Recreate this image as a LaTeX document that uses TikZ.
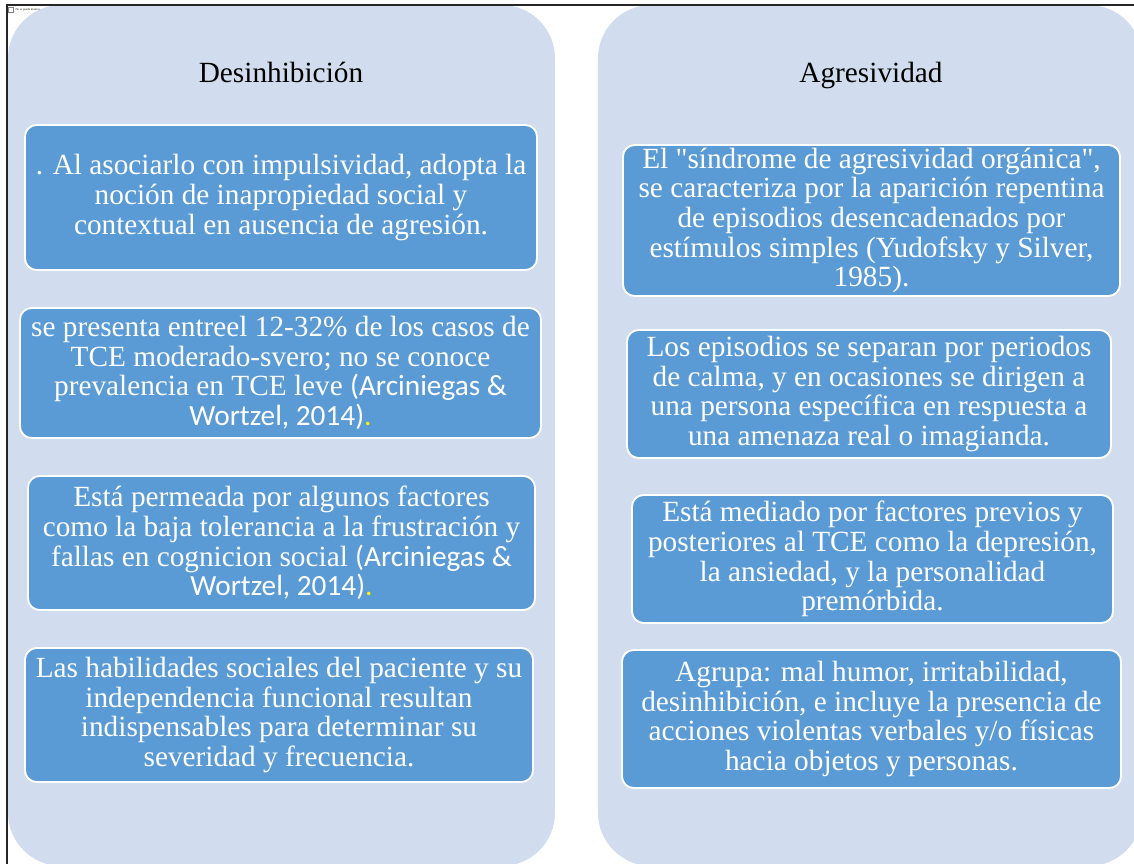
\documentclass[tikz,border=0pt]{standalone}
\usepackage{fontspec}
\setmainfont{Liberation Serif}
\newfontfamily\calibrifont{Carlito}
\usepackage{tikz}
\usetikzlibrary{backgrounds,positioning}
\definecolor{colfill}{RGB}{209,221,238}
\definecolor{boxfill}{RGB}{91,155,213}
\newcommand{\calref}[1]{{\calibrifont #1}}
\tikzstyle{column}=[rectangle, fill=colfill, rounded corners=1.6cm, inner sep=0pt]
\tikzstyle{title}=[anchor=base, font=\fontsize{25}{28}\selectfont]
\tikzstyle{item}=[rectangle, fill=boxfill, draw=white, line width=1.6pt, rounded corners=0.35cm, text=white, align=center, inner sep=0pt, font=\fontsize{25}{25.3}\selectfont]
\begin{document}
\begin{tikzpicture}[x=0.03cm,y=-0.03cm]
\useasboundingbox (0,0) rectangle (1134,864);
\clip (0,0) rectangle (1134,864);

%Columns
\node[column, minimum width=16.41cm, minimum height=25.83cm](coldes) at (281.5,435.5){};
\node[column, minimum width=16.32cm, minimum height=25.83cm](colagr) at (870,435.5){};
\node[title](tdes) at (281,82){Desinhibición};
\node[title](tagr) at (871,82){Agresividad};

%Left column
\node[item, minimum width=15.36cm, minimum height=4.35cm](des1) at (281,197.5){. Al asociarlo con impulsividad, adopta la\\noción de inapropiedad social y\\contextual en ausencia de agresión.};
\node[item, minimum width=15.63cm, minimum height=3.9cm](des2) at (280.5,373){se presenta entreel 12-32\% de los casos de\\TCE moderado-svero; no se conoce\\prevalencia en TCE leve \calref{(Arciniegas \&}\\\calref{Wortzel, 2014)\textcolor{yellow}{.}}};
\node[item, minimum width=15.21cm, minimum height=4.02cm](des3) at (281.5,543){Está permeada por algunos factores\\como la baja tolerancia a la frustración y\\fallas en cognicion social \calref{(Arciniegas \&}\\\calref{Wortzel, 2014)\textcolor{yellow}{.}}};
\node[item, minimum width=15.24cm, minimum height=4.02cm](des4) at (279,715){Las habilidades sociales del paciente y su\\independencia funcional resultan\\indispensables para determinar su\\severidad y frecuencia.};

%Right column
\node[item, minimum width=14.91cm, minimum height=4.53cm](agr1) at (871.5,220.5){El \textquotedbl síndrome de agresividad orgánica\textquotedbl,\\se caracteriza por la aparición repentina\\de episodios desencadenados por\\estímulos simples (Yudofsky y Silver,\\1985).};
\node[item, minimum width=14.52cm, minimum height=3.84cm](agr2) at (869,394){Los episodios se separan por periodos\\de calma, y en ocasiones se dirigen a\\una persona específica en respuesta a\\una amenaza real o imagianda.};
\node[item, minimum width=14.43cm, minimum height=3.84cm](agr3) at (872.5,559){Está mediado por factores previos y\\posteriores al TCE como la depresión,\\la ansiedad, y la personalidad\\premórbida.};
\node[item, minimum width=14.97cm, minimum height=4.14cm](agr4) at (871.5,719){Agrupa: mal humor, irritabilidad,\\desinhibición, e incluye la presencia de\\acciones violentas verbales y/o físicas\\hacia objetos y personas.};

%Frame
\node[draw=gray, fill=white, line width=0.3pt, minimum size=0.15cm, inner sep=0pt](icon) at (11,10){};
\node[right=0.05cm of icon, inner sep=0pt, font=\fontsize{2.5}{3}\selectfont](msg){No se puede mostrar};
\draw[black!85, line width=0.9pt] (7,864) -- (7,5) -- (1134,5);
\end{tikzpicture}
\end{document}
